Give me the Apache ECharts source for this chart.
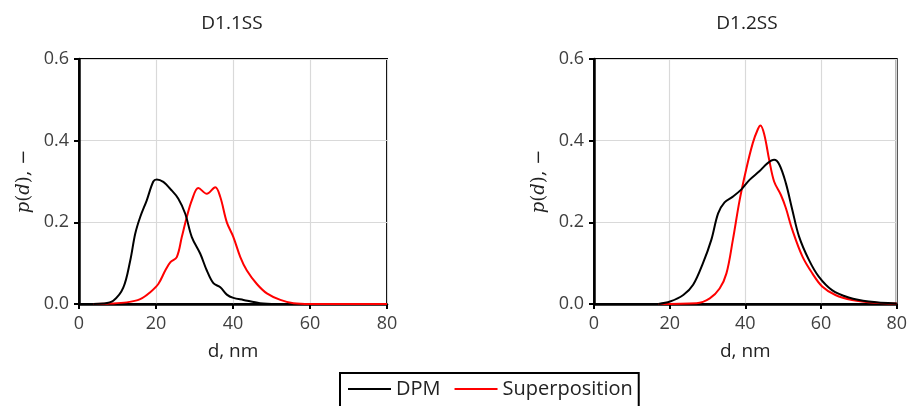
<!DOCTYPE html>
<html>
<head>
<meta charset="utf-8">
<script src="https://cdn.jsdelivr.net/npm/echarts@6/dist/echarts.min.js"></script>
<style>html,body{margin:0;padding:0;background:#fff}#c{width:910px;height:406px}</style>
</head>
<body>
<div id="c"></div>
<script>
// ---- data ----
const titles = ['D1.1SS', 'D1.2SS'];
const seriesNames = ['DPM', 'Superposition'];
const xTicks = [0, 20, 40, 60, 80];
const yTicks = [0, 0.2, 0.4, 0.6];

const dpm1D = [3.7, 6.3, 8.9, 11.5, 13.3, 14.6, 15.9, 17.6, 19.3, 20.2, 21.9, 23.7, 25.8, 27.6, 29.3, 31.5, 33.2, 34.9, 36.7, 38.4, 40.1, 42.7, 47, 51.4];
const dpm1P = [0, 0.001, 0.008, 0.04, 0.106, 0.172, 0.213, 0.254, 0.3, 0.305, 0.299, 0.282, 0.258, 0.221, 0.164, 0.123, 0.082, 0.051, 0.041, 0.023, 0.015, 0.01, 0.002, 0];

const sup1D = [3.7, 8, 12.4, 15.9, 18.5, 20.6, 22.4, 23.7, 25.4, 26.7, 28, 29.3, 31, 33.2, 35.4, 36.7, 38.4, 40.1, 41.9, 43.6, 46.2, 48.8, 52.3, 55.7, 60, 80];
const sup1P = [0, 0.001, 0.004, 0.012, 0.029, 0.049, 0.082, 0.102, 0.115, 0.164, 0.213, 0.254, 0.284, 0.27, 0.286, 0.262, 0.2, 0.164, 0.115, 0.082, 0.049, 0.026, 0.01, 0.002, 0, 0];

const dpm2D = [17, 20.1, 23.6, 26.2, 28.8, 31, 32.8, 34.5, 36.7, 38.9, 41.1, 43.7, 45.9, 47.6, 49, 50.7, 52.4, 54.2, 56.8, 59.4, 62.9, 67.3, 72.6, 80];
const dpm2P = [0, 0.006, 0.022, 0.047, 0.1, 0.157, 0.222, 0.249, 0.263, 0.28, 0.304, 0.325, 0.345, 0.353, 0.341, 0.296, 0.231, 0.165, 0.108, 0.067, 0.034, 0.016, 0.006, 0.001];

const sup2D = [17, 27.1, 30.6, 33.2, 35, 36.7, 38.5, 40.2, 41.96, 43.3, 44, 45, 46.3, 47.6, 49.4, 50.7, 52.4, 55.1, 57.7, 60.3, 63.8, 68.2, 74.3, 80];
const sup2P = [0, 0.002, 0.014, 0.038, 0.075, 0.157, 0.255, 0.329, 0.394, 0.428, 0.437, 0.415, 0.353, 0.3, 0.267, 0.235, 0.182, 0.116, 0.075, 0.043, 0.022, 0.01, 0.003, 0.001];

const zip = (a, b) => a.map((v, i) => [v, b[i]]);

const FONT = '"Open Sans", "Noto Sans", sans-serif';
const TXT = '#404040';

function xAxis(gi) {
  return {
    type: 'value', gridIndex: gi, min: xTicks[0], max: xTicks[xTicks.length - 1], interval: 20,
    name: 'd, nm', nameLocation: 'middle', nameGap: 38,
    nameTextStyle: { fontFamily: FONT, fontSize: 19, color: '#222' },
    axisLine: { show: true, onZero: false, lineStyle: { color: '#000', width: 2.5 } },
    axisTick: { show: true, length: 5, lineStyle: { color: '#000', width: 2 } },
    axisLabel: { fontFamily: FONT, fontSize: 18, color: TXT, margin: 11 },
    splitLine: { show: true, lineStyle: { color: '#d9d9d9', width: 1.2 } }
  };
}
function yAxis(gi) {
  return {
    type: 'value', gridIndex: gi, min: yTicks[0], max: yTicks[yTicks.length - 1], interval: 0.2,
    name: '{i|p}{n|(}{i|d}{n|), −}', nameLocation: 'middle', nameGap: 46, nameRotate: 90,
    nameTextStyle: {
      rich: {
        i: { fontFamily: '"DejaVu Serif", "Liberation Serif", serif', fontStyle: 'italic', fontSize: 18, color: '#222' },
        n: { fontFamily: '"DejaVu Serif", "Liberation Serif", serif', fontSize: 18, color: '#222' }
      }
    },
    axisLine: { show: true, onZero: false, lineStyle: { color: '#000', width: 2.5 } },
    axisTick: { show: true, length: 5, lineStyle: { color: '#000', width: 2 } },
    axisLabel: { fontFamily: FONT, fontSize: 18, color: TXT, margin: 10, formatter: v => v.toFixed(1) },
    splitLine: { show: true, lineStyle: { color: '#d9d9d9', width: 1.2 } }
  };
}
function line(name, gi, data, color) {
  return {
    name, type: 'line', xAxisIndex: gi, yAxisIndex: gi, data, smooth: 0.35,
    symbol: 'none', lineStyle: { color, width: 2 }, itemStyle: { color }, z: color === '#000000' ? 3 : 2
  };
}

const chart = echarts.init(document.getElementById('c'), null, { renderer: 'canvas' });
chart.setOption({
  animation: false,
  backgroundColor: '#fff',
  title: [
    { text: titles[0], left: 227, top: 9, textAlign: 'center', textStyle: { fontFamily: FONT, fontSize: 19, fontWeight: 'normal', color: '#222' } },
    { text: titles[1], left: 742, top: 9, textAlign: 'center', textStyle: { fontFamily: FONT, fontSize: 19, fontWeight: 'normal', color: '#222' } }
  ],
  grid: [
    { left: 79, top: 59, width: 308, height: 245, show: true, borderColor: '#000', borderWidth: 2, backgroundColor: 'transparent' },
    { left: 594, top: 59, width: 304, height: 245, show: true, borderColor: '#000', borderWidth: 2, backgroundColor: 'transparent' }
  ],
  xAxis: [xAxis(0), xAxis(1)],
  yAxis: [yAxis(0), yAxis(1)],
  legend: {
    data: seriesNames, left: 340, top: 373, orient: 'horizontal',
    icon: 'rect', itemWidth: 43, itemHeight: 2, itemGap: 14,
    borderColor: '#000', borderWidth: 2, padding: [6, 6, 14, 8],
    textStyle: { fontFamily: FONT, fontSize: 20, color: '#222' }
  },
  series: [
    line(seriesNames[0], 0, zip(dpm1D, dpm1P), '#000000'),
    line(seriesNames[1], 0, zip(sup1D, sup1P), '#ff0000'),
    line(seriesNames[0], 1, zip(dpm2D, dpm2P), '#000000'),
    line(seriesNames[1], 1, zip(sup2D, sup2P), '#ff0000')
  ]
});
</script>
</body>
</html>
